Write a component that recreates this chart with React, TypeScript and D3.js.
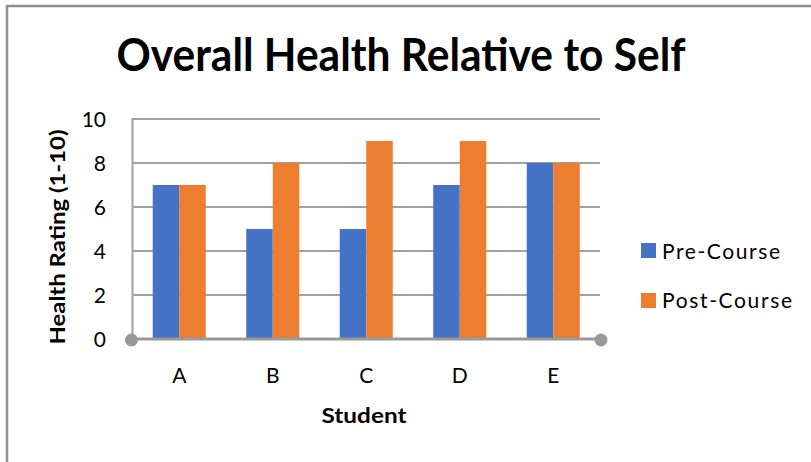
import React from "react";
import * as d3 from "d3";

const categories = ["A", "B", "C", "D", "E"];
const seriesNames = ["Pre-Course", "Post-Course"];
const preCourse = [7, 5, 5, 7, 8];
const postCourse = [7, 8, 9, 9, 8];
const yTicks = [0, 2, 4, 6, 8, 10];
const colors = ["#4472C4", "#ED7D31"];
const legendWidths = [118, 130];

const W = 811;
const H = 462;
const left = 132.5;
const right = 600;
const top = 119;
const bottom = 339;
const FONT = "Lato, 'Open Sans', sans-serif";

export default function App() {
  const x = d3
    .scaleBand<string>()
    .domain(categories)
    .range([left, right])
    .paddingInner(0.433)
    .paddingOuter(0.2165);
  const xs = d3.scaleBand<string>().domain(seriesNames).range([0, x.bandwidth()]);
  const y = d3.scaleLinear().domain([0, 10]).range([bottom, top]);
  const data = [preCourse, postCourse];

  return (
    <svg
      width={W}
      height={H}
      style={{ position: "absolute", left: 0, top: 0, background: "#fff" }}
      fontFamily={FONT}
    >
      <rect x={0} y={0} width={W} height={H} fill="#fff" />
      <path d={`M7,${H} V6 H${W}`} fill="none" stroke="#8f8f8f" strokeWidth={2.5} />
      <text
        x={401}
        y={71}
        textAnchor="middle"
        fontSize={45}
        fontWeight={700}
        fill="#000"
        textLength={569}
        lengthAdjust="spacingAndGlyphs"
      >
        Overall Health Relative to Self
      </text>
      {yTicks
        .filter((t) => t > 0)
        .map((t) => (
          <line key={t} x1={left} x2={right} y1={y(t)} y2={y(t)} stroke="#a0a0a0" strokeWidth={2} />
        ))}
      <line x1={left} x2={left} y1={top - 1} y2={bottom} stroke="#a0a0a0" strokeWidth={2} />
      {data.map((vals, si) =>
        vals.map((v, i) => (
          <rect
            key={`${si}-${i}`}
            x={(x(categories[i]) as number) + (xs(seriesNames[si]) as number)}
            y={y(v)}
            width={xs.bandwidth()}
            height={y(0) - y(v)}
            fill={colors[si]}
          />
        ))
      )}
      <line x1={left - 1} x2={right} y1={bottom} y2={bottom} stroke="#999" strokeWidth={3} />
      <circle cx={left - 1} cy={bottom + 1} r={6.5} fill="#999" />
      <circle cx={right + 1} cy={bottom + 1} r={6.5} fill="#999" />
      {yTicks.map((t) => (
        <text key={t} x={106} y={y(t) + 7.5} textAnchor="end" fontSize={21} fill="#000">
          {t}
        </text>
      ))}
      {categories.map((c) => (
        <text
          key={c}
          x={(x(c) as number) + x.bandwidth() / 2}
          y={383}
          textAnchor="middle"
          fontSize={21}
          fill="#000"
        >
          {c}
        </text>
      ))}
      <text
        x={364}
        y={423}
        textAnchor="middle"
        fontSize={21}
        fontWeight={700}
        fill="#000"
        textLength={85}
        lengthAdjust="spacingAndGlyphs"
      >
        Student
      </text>
      <text
        transform={`translate(65,237) rotate(-90)`}
        textAnchor="middle"
        fontSize={21}
        fontWeight={700}
        fill="#000"
        textLength={215}
        lengthAdjust="spacingAndGlyphs"
      >
        Health Rating (1-10)
      </text>
      {seriesNames.map((s, i) => (
        <g key={s}>
          <rect x={641} y={243 + i * 50} width={15} height={15} fill={colors[i]} />
          <text
            x={662}
            y={259 + i * 49}
            fontSize={21}
            fill="#000"
            textLength={legendWidths[i]}
            lengthAdjust="spacing"
          >
            {s}
          </text>
        </g>
      ))}
    </svg>
  );
}
